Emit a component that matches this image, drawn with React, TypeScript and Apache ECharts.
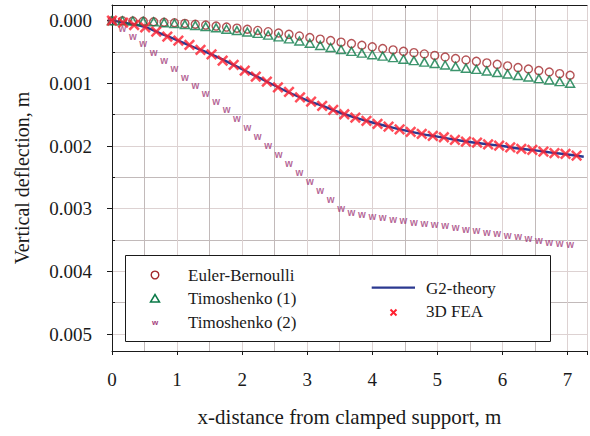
import React, { useEffect, useRef } from "react";
import * as echarts from "echarts";

// x positions (m) of the analytical markers
const beamX = [0, 0.16, 0.32, 0.48, 0.64, 0.8, 0.96, 1.12, 1.28, 1.44, 1.6, 1.76, 1.92, 2.08, 2.24, 2.4, 2.56, 2.72, 2.88, 3.04, 3.2, 3.36, 3.52, 3.68, 3.84, 4.0, 4.16, 4.32, 4.48, 4.64, 4.8, 4.96, 5.12, 5.28, 5.44, 5.6, 5.76, 5.92, 6.08, 6.24, 6.4, 6.56, 6.72, 6.88, 7.04];
// deflections in mm (converted to m for the chart)
const eulerBernoulliMm = [0, 0.002, 0.006, 0.011, 0.017, 0.025, 0.033, 0.044, 0.057, 0.071, 0.086, 0.102, 0.119, 0.137, 0.156, 0.176, 0.197, 0.218, 0.244, 0.27, 0.295, 0.318, 0.343, 0.366, 0.392, 0.418, 0.444, 0.467, 0.489, 0.51, 0.531, 0.554, 0.58, 0.604, 0.627, 0.649, 0.674, 0.697, 0.722, 0.748, 0.771, 0.796, 0.819, 0.845, 0.871];
const timoshenko1Mm = [0, 0.002, 0.006, 0.011, 0.018, 0.032, 0.046, 0.06, 0.076, 0.094, 0.114, 0.136, 0.158, 0.18, 0.203, 0.23, 0.258, 0.29, 0.325, 0.36, 0.395, 0.428, 0.46, 0.49, 0.518, 0.544, 0.566, 0.59, 0.615, 0.637, 0.662, 0.682, 0.707, 0.73, 0.758, 0.777, 0.802, 0.828, 0.85, 0.876, 0.898, 0.924, 0.946, 0.972, 0.998];
const timoshenko2Mm = [0, 0.12, 0.245, 0.37, 0.5, 0.635, 0.765, 0.9, 1.03, 1.16, 1.295, 1.425, 1.56, 1.7, 1.85, 1.99, 2.13, 2.275, 2.42, 2.57, 2.71, 2.85, 2.99, 3.06, 3.09, 3.12, 3.145, 3.165, 3.185, 3.215, 3.23, 3.255, 3.275, 3.295, 3.325, 3.355, 3.38, 3.4, 3.43, 3.45, 3.48, 3.515, 3.54, 3.55, 3.575];

const g2X = [0, 0.25, 0.5, 0.75, 1.0, 1.25, 1.5, 1.75, 2.0, 2.25, 2.5, 2.75, 3.0, 3.25, 3.5, 3.75, 4.0, 4.25, 4.5, 4.75, 5.0, 5.25, 5.5, 5.75, 6.0, 6.25, 6.5, 6.75, 7.0, 7.25];
const g2Mm = [0, 0.045, 0.1, 0.205, 0.31, 0.42, 0.525, 0.645, 0.775, 0.905, 1.035, 1.16, 1.27, 1.365, 1.465, 1.55, 1.625, 1.69, 1.75, 1.805, 1.85, 1.895, 1.935, 1.968, 2.0, 2.04, 2.07, 2.105, 2.135, 2.17];

const feaX = [0, 0.17, 0.34, 0.51, 0.68, 0.85, 1.02, 1.19, 1.36, 1.53, 1.7, 1.87, 2.04, 2.21, 2.38, 2.55, 2.72, 2.89, 3.06, 3.23, 3.4, 3.57, 3.74, 3.91, 4.08, 4.25, 4.42, 4.59, 4.76, 4.93, 5.1, 5.27, 5.44, 5.61, 5.78, 5.95, 6.12, 6.29, 6.46, 6.63, 6.8, 6.97, 7.14];
const feaMm = [0, 0.031, 0.069, 0.106, 0.175, 0.255, 0.318, 0.388, 0.467, 0.536, 0.637, 0.707, 0.797, 0.893, 0.972, 1.063, 1.137, 1.222, 1.291, 1.36, 1.424, 1.493, 1.547, 1.6, 1.647, 1.69, 1.733, 1.775, 1.807, 1.839, 1.86, 1.903, 1.929, 1.945, 1.972, 1.993, 2.02, 2.046, 2.062, 2.089, 2.115, 2.126, 2.153];

const yMajorTicks = [0, 0.001, 0.002, 0.003, 0.004, 0.005];
const yMinorTicks = [0.0005, 0.0015, 0.0025, 0.0035, 0.0045];
const xTopTicks = [0.5, 1.5, 2.5, 3.5, 4.5, 5.5, 6.5];

const seriesNames = ["Euler-Bernoulli", "Timoshenko (1)", "Timoshenko (2)", "G2-theory", "3D FEA"];

const SERIF = "Liberation Serif";
const SANS = "Liberation Sans";
const INK = "#1a1a1a";
const C_EB = "#a3282c";
const C_T1 = "#0b7a48";
const C_T2 = "#a3407c";
const C_G2 = "#2b3990";
const C_FEA = "#ff2030";

const pairs = (xs: number[], ys: number[]) => xs.map((x, i) => [x, ys[i] / 1000]);

export default function App() {
  const ref = useRef<HTMLDivElement>(null);
  useEffect(() => {
    document.body.style.margin = "0";
    const chart = echarts.init(ref.current!, null, { renderer: "svg" });
    const yBase = {
      type: "value",
      min: -0.00025,
      max: 0.00527,
      inverse: true,
    };
    const option: any = {
      animation: false,
      textStyle: { fontFamily: SERIF },
      grid: { left: 112, top: 5, width: 487.6, height: 346 },
      xAxis: [
        {
          type: "value",
          min: 0,
          max: 7.3,
          interval: 1,
          position: "bottom",
          name: "x-distance from clamped support, m",
          nameLocation: "middle",
          nameGap: 55,
          nameTextStyle: { fontSize: 21, fontFamily: SERIF, color: INK },
          axisLine: { show: true, onZero: false, lineStyle: { color: INK, width: 1 } },
          axisTick: { show: true, length: 4, lineStyle: { color: INK } },
          axisLabel: {
            formatter: (v: number) => (v <= 7 && Number.isInteger(v) ? String(v) : ""),
            margin: 19,
            fontSize: 19,
            fontFamily: SERIF,
            color: INK,
          },
          splitLine: { show: true, lineStyle: { color: "#ddd2d2", width: 1 } },
          minorTick: { show: true, splitNumber: 2, length: 0 },
          minorSplitLine: { show: true, lineStyle: { color: "#c2baba", width: 1 } },
        },
        {
          type: "value",
          min: 0,
          max: 7.3,
          position: "top",
          axisLine: { show: true, onZero: false, lineStyle: { color: INK, width: 1 } },
          axisTick: { show: true, inside: true, length: 3, customValues: xTopTicks, lineStyle: { color: INK } },
          axisLabel: { show: false },
          splitLine: { show: false },
        },
      ],
      yAxis: [
        {
          ...yBase,
          position: "left",
          name: "Vertical deflection, m",
          nameLocation: "middle",
          nameGap: 80,
          nameTextStyle: { fontSize: 20, fontFamily: SERIF, color: INK },
          axisLine: { show: true, onZero: false, lineStyle: { color: INK, width: 1 } },
          axisTick: { show: true, length: 5, customValues: yMajorTicks, lineStyle: { color: INK } },
          axisLabel: {
            customValues: yMajorTicks,
            formatter: (v: number) => v.toFixed(3),
            margin: 20,
            fontSize: 19,
            fontFamily: SERIF,
            color: INK,
          },
          splitLine: { show: true, lineStyle: { color: "#ddd2d2", width: 1 } },
        },
        {
          ...yBase,
          position: "left",
          axisLine: { show: false },
          axisTick: { show: true, inside: true, length: 3, customValues: yMinorTicks, lineStyle: { color: INK } },
          axisLabel: { show: false },
          splitLine: { show: true, lineStyle: { color: "#c2baba", width: 1 } },
        },
      ],
      series: [
        {
          name: seriesNames[3],
          type: "line",
          data: pairs(g2X, g2Mm),
          smooth: true,
          showSymbol: false,
          symbol: "none",
          lineStyle: { color: C_G2, width: 2.4 },
          z: 3,
        },
        {
          name: seriesNames[0],
          type: "scatter",
          data: pairs(beamX, eulerBernoulliMm),
          symbol: "circle",
          symbolSize: 8,
          itemStyle: { color: "transparent", borderColor: C_EB, borderWidth: 1.4 },
          z: 4,
        },
        {
          name: seriesNames[1],
          type: "scatter",
          data: pairs(beamX, timoshenko1Mm),
          symbol: "triangle",
          symbolSize: [9, 8],
          itemStyle: { color: "transparent", borderColor: C_T1, borderWidth: 1.5 },
          z: 4,
        },
        {
          name: seriesNames[2],
          type: "scatter",
          data: pairs(beamX, timoshenko2Mm),
          symbol: "rect",
          symbolSize: 1,
          itemStyle: { color: "transparent" },
          label: {
            show: true,
            position: "inside",
            formatter: "w",
            fontSize: 10,
            fontWeight: "bold",
            fontFamily: SANS,
            color: C_T2,
          },
          z: 4,
        },
        {
          name: seriesNames[4],
          type: "scatter",
          data: pairs(feaX, feaMm),
          symbol: "path://M0,0L10,10M10,0L0,10",
          symbolSize: 9.5,
          itemStyle: { color: "transparent", borderColor: C_FEA, borderWidth: 2.5 },
          z: 5,
        },
      ],
      graphic: [
        {
          type: "rect",
          z: 100,
          shape: { x: 125.5, y: 255.5, width: 425, height: 86 },
          style: { fill: "#ffffff", stroke: INK, lineWidth: 1 },
        },
        {
          type: "circle",
          z: 101,
          shape: { cx: 155, cy: 275, r: 3.8 },
          style: { fill: "none", stroke: C_EB, lineWidth: 1.4 },
        },
        {
          type: "polygon",
          z: 101,
          shape: { points: [[150.5, 302], [159.5, 302], [155, 294.5]] },
          style: { fill: "none", stroke: C_T1, lineWidth: 1.5 },
        },
        {
          type: "text",
          z: 101,
          x: 155,
          y: 322,
          style: { text: "w", fontSize: 8, fontWeight: "bold", fontFamily: SANS, fill: C_T2, align: "center", verticalAlign: "middle" },
        },
        {
          type: "text",
          z: 101,
          x: 188,
          y: 275,
          style: { text: seriesNames[0], fontSize: 17, fontFamily: SERIF, fill: INK, verticalAlign: "middle" },
        },
        {
          type: "text",
          z: 101,
          x: 188,
          y: 298.5,
          style: { text: seriesNames[1], fontSize: 17, fontFamily: SERIF, fill: INK, verticalAlign: "middle" },
        },
        {
          type: "text",
          z: 101,
          x: 188,
          y: 322,
          style: { text: seriesNames[2], fontSize: 17, fontFamily: SERIF, fill: INK, verticalAlign: "middle" },
        },
        {
          type: "line",
          z: 101,
          shape: { x1: 371.7, y1: 287.7, x2: 415, y2: 287.7 },
          style: { stroke: C_G2, lineWidth: 2.2 },
        },
        {
          type: "line",
          z: 101,
          shape: { x1: 390.5, y1: 309.5, x2: 396.5, y2: 315.5 },
          style: { stroke: C_FEA, lineWidth: 2 },
        },
        {
          type: "line",
          z: 101,
          shape: { x1: 396.5, y1: 309.5, x2: 390.5, y2: 315.5 },
          style: { stroke: C_FEA, lineWidth: 2 },
        },
        {
          type: "text",
          z: 101,
          x: 426,
          y: 288,
          style: { text: seriesNames[3], fontSize: 17, fontFamily: SERIF, fill: INK, verticalAlign: "middle" },
        },
        {
          type: "text",
          z: 101,
          x: 426,
          y: 311.5,
          style: { text: seriesNames[4], fontSize: 17, fontFamily: SERIF, fill: INK, verticalAlign: "middle" },
        },
      ],
    };
    chart.setOption(option);
    return () => chart.dispose();
  }, []);
  return <div ref={ref} style={{ width: 590, height: 436 }} />;
}
